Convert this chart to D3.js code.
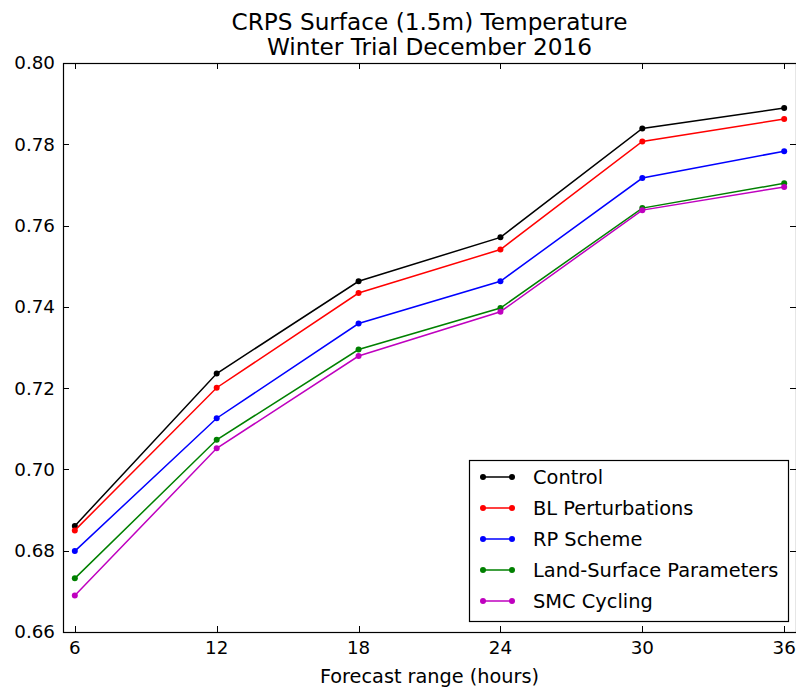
<!DOCTYPE html>
<html><head><meta charset="utf-8">
<script src="https://cdn.jsdelivr.net/npm/d3@7"></script>
<style>body{margin:0;background:#fff}svg{display:block}text{font-family:"DejaVu Sans",sans-serif;fill:#000}</style>
</head><body><svg id="c" width="796" height="688"></svg>
<script>
const hours = [6, 12, 18, 24, 30, 36];
const seriesNames = ["Control", "BL Perturbations", "RP Scheme", "Land-Surface Parameters", "SMC Cycling"];
const seriesColors = ["#000000", "#ff0000", "#0000ff", "#008000", "#bf00bf"];
const control = [0.6861, 0.7236, 0.7463, 0.7571, 0.7839, 0.7889];
const blPert = [0.6850, 0.7201, 0.7434, 0.7541, 0.7807, 0.7862];
const rpScheme = [0.6799, 0.7126, 0.7359, 0.7463, 0.7717, 0.7783];
const landSurf = [0.6732, 0.7073, 0.7295, 0.7397, 0.7643, 0.7704];
const smcCycling = [0.6690, 0.7052, 0.7279, 0.7388, 0.7638, 0.7695];
const yTicks = [0.66, 0.68, 0.70, 0.72, 0.74, 0.76, 0.78, 0.80];
const titleLines = ["CRPS Surface (1.5m) Temperature", "Winter Trial December 2016"];
const xLabel = "Forecast range (hours)";

const allSeries = [control, blPert, rpScheme, landSurf, smcCycling];
const svg = d3.select("#c");
const L = 63, R = 796, T = 63, B = 632;
const x = d3.scaleLinear().domain([5.5, 36.5]).range([L, R]);
const y = d3.scaleLinear().domain([0.66, 0.80]).range([B, T]);
const tickLen = 6;

svg.append("rect").attr("x", L + 0.5).attr("y", T + 0.5).attr("width", R - L).attr("height", B - T)
  .attr("fill", "none").attr("stroke", "#000").attr("stroke-width", 1.2);

const g = svg.append("g");
hours.forEach(h => {
  const px = Math.round(x(h)) + 0.5;
  g.append("line").attr("x1", px).attr("x2", px).attr("y1", B).attr("y2", B - tickLen).attr("stroke", "#000");
  g.append("line").attr("x1", px).attr("x2", px).attr("y1", T).attr("y2", T + tickLen).attr("stroke", "#000");
  g.append("text").attr("x", x(h)).attr("y", B + 22).attr("text-anchor", "middle")
    .style("font-size", "18.3px").text(h);
});
yTicks.forEach(v => {
  const py = Math.round(y(v)) + 0.5;
  g.append("line").attr("x1", L).attr("x2", L + tickLen).attr("y1", py).attr("y2", py).attr("stroke", "#000");
  g.append("line").attr("x1", R).attr("x2", R - tickLen).attr("y1", py).attr("y2", py).attr("stroke", "#000");
  g.append("text").attr("x", L - 8).attr("y", y(v)).attr("dy", "0.35em").attr("text-anchor", "end")
    .style("font-size", "18.3px").text(v.toFixed(2));
});

const line = d3.line().x((d, i) => x(hours[i])).y(d => y(d));
allSeries.forEach((s, k) => {
  svg.append("path").datum(s).attr("d", line).attr("fill", "none")
    .attr("stroke", seriesColors[k]).attr("stroke-width", 1.5);
  svg.selectAll(null).data(s).enter().append("circle")
    .attr("cx", (d, i) => x(hours[i])).attr("cy", d => y(d)).attr("r", 3)
    .attr("fill", seriesColors[k]);
});

titleLines.forEach((t, i) => {
  svg.append("text").attr("x", (L + R) / 2).attr("y", 30 + i * 25).attr("text-anchor", "middle")
    .style("font-size", "23.2px").text(t);
});
svg.append("text").attr("x", (L + R) / 2).attr("y", 683).attr("text-anchor", "middle")
  .style("font-size", "19.3px").text(xLabel);

const lg = svg.append("g");
lg.append("rect").attr("x", 469.5).attr("y", 460.5).attr("width", 319).attr("height", 161)
  .attr("fill", "#fff").attr("stroke", "#000").attr("stroke-width", 1.2);
seriesNames.forEach((n, k) => {
  const ly = 477 + k * 31;
  lg.append("line").attr("x1", 483).attr("x2", 512).attr("y1", ly).attr("y2", ly)
    .attr("stroke", seriesColors[k]).attr("stroke-width", 1.5);
  [483, 512].forEach(cx => lg.append("circle").attr("cx", cx).attr("cy", ly).attr("r", 3).attr("fill", seriesColors[k]));
  lg.append("text").attr("x", 533).attr("y", ly).attr("dy", "0.35em").style("font-size", "19.4px").text(n);
});
</script></body></html>
